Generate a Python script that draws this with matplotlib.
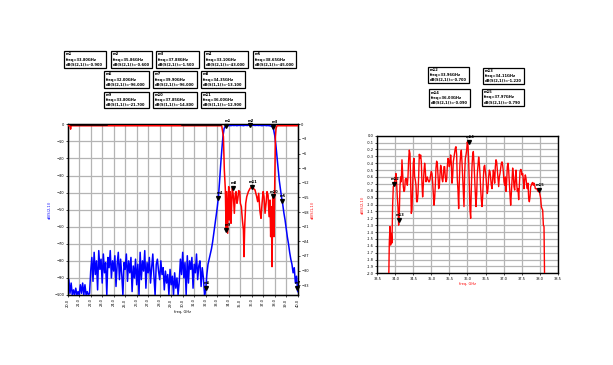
import numpy as np
import matplotlib
matplotlib.use('Agg')
import matplotlib.pyplot as plt
from matplotlib.patches import Rectangle

# ---- left plot: full sweep, S21 in blue (left axis), S11 in red (right axis)
freq_s21 = np.round(np.arange(20.0, 40.05, 0.1), 1)
s21_db = [
    -96, -91, -99, -93, -100, -97, -100, -96, -100, -98,
    -100, -94, -99, -93, -100, -94, -100, -98, -100, -99,
    -86, -78, -92, -75, -88, -80, -97, -74, -85, -79,
    -93, -76, -87, -81, -100, -78, -84, -74, -90, -80,
    -86, -77, -95, -82, -75, -91, -79, -88, -100, -81,
    -85, -76, -92, -80, -87, -78, -98, -83, -90, -79,
    -94, -82, -100, -75, -91, -80, -86, -74, -96, -81,
    -87, -78, -93, -84, -76, -89, -100, -82, -79, -86,
    -91, -80, -88, -84, -97, -86, -93, -88, -100, -85,
    -94, -89, -100, -87, -96, -90, -100, -92, -79, -88,
    -75, -90, -81, -100, -77, -93, -80, -85, -78, -96,
    -82, -87, -76, -91, -83, -80, -95, -84, -90, -100,
    -97, -88, -82, -79, -76, -73, -69, -64, -59, -54,
    -49, -43, -34, -24, -15, -7, -2.5, -1.2, -0.9, -0.8,
    -0.8, -0.7, -0.8, -0.6, -0.7, -0.7, -0.6, -0.8, -0.7, -0.6,
    -0.7, -0.6, -0.7, -0.8, -0.6, -0.6, -0.7, -0.6, -0.5, -0.6,
    -0.6, -0.5, -0.6, -0.7, -0.6, -0.6, -0.7, -0.6, -0.7, -0.8,
    -0.7, -0.6, -0.7, -0.8, -0.7, -0.8, -0.9, -1.1, -1.5, -3.0,
    -6.5, -12, -19, -26, -33, -38, -43, -47, -52, -56,
    -61, -66, -70, -75, -79, -82, -87, -84, -93, -89,
    -98,
]

freq_s11 = [20.0, 20.2, 20.25, 20.3, 33.39, 33.54, 33.62, 33.71, 33.77, 33.83,
            33.91, 34.00, 34.06, 34.14, 34.20, 34.26, 34.32, 34.41, 34.49, 34.58,
            34.64, 34.72, 34.78, 34.87, 34.96, 35.01, 35.10, 35.19, 35.28, 35.33,
            35.39, 35.48, 35.57, 35.71, 35.86, 36.00, 36.14, 36.29, 36.43, 36.52,
            36.61, 36.72, 36.81, 36.90, 36.99, 37.07, 37.16, 37.25, 37.33, 37.42,
            37.51, 37.59, 37.65, 37.71, 37.77, 37.83, 37.88, 37.94, 38.00, 38.06,
            38.12, 38.20, 40.0]
s11_db = [-0.3, -0.3, -1.0, -0.3, -0.3, -2.53, -9.37, -13.47, -21.67, -13.81,
          -22.35, -12.78, -19.62, -13.81, -20.30, -16.20, -13.12, -14.83, -18.25, -14.15,
          -13.81, -16.20, -15.52, -13.60, -13.81, -16.20, -16.88, -19.62, -21.67, -27.14,
          -20.99, -16.20, -14.83, -13.81, -13.12, -12.92, -13.12, -13.47, -14.83, -15.86,
          -14.15, -17.91, -19.28, -16.20, -13.81, -14.83, -18.25, -16.20, -13.81, -14.49,
          -18.94, -15.52, -23.04, -16.88, -29.19, -14.83, -19.62, -23.04, -12.78, -2.53,
          -0.82, -0.3, -0.3]

# black trace segments sitting on top of S11 near 0 dB
freq_blk = [[20.26, 23.42], [29.94, 33.33]]
blk_db = [[-0.05, -0.05], [-0.05, -0.05]]

left_names = ['m1', 'm2', 'm3', 'm4', 'm5', 'm6', 'm7', 'm8', 'm9', 'm10', 'm11']
left_freq = [33.80, 35.86, 37.88, 33.10, 38.65, 32.00, 39.90, 34.35, 33.80, 37.85, 36.00]
left_val = [-0.9, -0.6, -1.5, -43.0, -45.0, -96.0, -96.0, -13.1, -21.7, -14.8, -12.9]
left_trace = ['S(2,1)'] * 7 + ['S(1,1)'] * 4

# ---- right plot: passband zoom of S21
s21_zoom_db = [
    -2.2, -1.56, -1.32, -1.59, -1.42, -1.56, -1.01, -0.74, -0.72, -0.67,
    -0.62, -0.55, -0.69, -0.89, -1.03, -1.30, -1.13, -0.74, -0.60, -0.67,
    -0.35, -0.55, -0.74, -0.81, -0.79, -0.64, -0.62, -0.64, -0.72, -0.60,
    -0.35, -0.21, -0.26, -0.64, -1.13, -1.08, -0.74, -0.40, -0.33, -0.60,
    -0.64, -0.72, -0.96, -0.96, -0.84, -0.60, -0.27, -0.33, -0.28, -0.38,
    -0.69, -0.89, -0.72, -0.52, -0.40, -0.50, -0.67, -0.64, -0.60, -0.64,
    -0.67, -0.67, -0.64, -0.57, -0.52, -0.55, -0.67, -0.84, -1.01, -0.91,
    -0.72, -0.47, -0.37, -0.40, -0.57, -0.77, -0.74, -0.57, -0.43, -0.47,
    -0.62, -0.67, -0.60, -0.45, -0.45, -0.60, -0.67, -0.64, -0.45, -0.33,
    -0.35, -0.45, -0.40, -0.28, -0.40, -0.69, -0.60, -0.38, -0.31, -0.23,
    -0.18, -0.16, -0.28, -0.64, -0.79, -1.06, -0.67, -0.40, -0.28, -0.21,
    -0.38, -0.60, -0.81, -1.03, -0.55, -0.33, -0.28, -0.21, -0.09, -0.14,
    -0.35, -0.69, -1.08, -1.20, -0.77, -0.45, -0.28, -0.23, -0.40, -0.64,
    -0.84, -1.03, -0.86, -0.55, -0.43, -0.31, -0.40, -0.55, -0.77, -0.93,
    -1.03, -0.89, -0.62, -0.45, -0.43, -0.52, -0.60, -0.74, -0.84, -0.77,
    -0.60, -0.50, -0.52, -0.62, -0.72, -0.77, -0.64, -0.50, -0.57, -0.69,
    -0.45, -0.35, -0.38, -0.50, -0.64, -0.74, -0.60, -0.55, -0.47, -0.40,
    -0.38, -0.43, -0.52, -0.67, -0.72, -0.60, -0.81, -0.67, -0.45, -0.40,
    -0.50, -0.69, -0.86, -1.01, -0.84, -0.64, -0.47, -0.57, -0.74, -0.79,
    -0.62, -0.50, -0.69, -0.81, -0.77, -0.93, -0.74, -0.52, -0.49, -0.50,
    -0.57, -0.55, -0.64, -0.77, -0.64, -0.57, -0.62, -0.72, -0.77, -0.69,
    -0.91, -0.96, -0.89, -0.74, -0.72, -0.69, -0.68, -0.72, -0.69, -0.72,
    -0.77, -0.77, -0.77, -0.79, -0.81, -0.79, -0.81, -0.86, -0.91, -1.03,
    -1.06, -1.08, -1.30, -1.32, -2.2,
]
freq_zoom = np.linspace(33.814, 38.139, len(s21_zoom_db))

right_names = ['m12', 'm13', 'm14', 'm15']
right_freq = [33.96, 34.11, 36.03, 37.97]
right_val = [-0.70, -1.22, -0.09, -0.79]

W, H = 613, 365
BLUE = '#0000ff'
RED = '#ff0000'
GRID = '#b4b4b4'
FS = 2.6


def style_axes(ax):
    ax.grid(True, color=GRID, lw=0.9)
    ax.set_axisbelow(True)
    for s in ax.spines.values():
        s.set_linewidth(1.0)
        s.set_color('black')
    ax.tick_params(labelsize=FS, length=1.5, width=0.5, pad=1)


def drop_marker(ax, f, v, name):
    ax.plot([f], [v], marker='v', ms=2.8, color='black', clip_on=False, zorder=6)
    ax.annotate(name, (f, v), xytext=(0.8, 2.0), textcoords='offset points',
                fontsize=FS, weight='bold', ha='center', va='bottom',
                annotation_clip=False, zorder=6)


fig = plt.figure(figsize=(W / 100, H / 100), dpi=100)

# left chart
ax1 = fig.add_axes([67.7 / W, 1 - 295 / H, 230 / W, 170.7 / H])
style_axes(ax1)
ax1.plot(freq_s21, s21_db, color=BLUE, lw=1.1, zorder=3)
ax1.set_xlim(20, 40)
ax1.set_ylim(-100, 0)
ax1.set_xticks(np.arange(20, 40.5, 1))
ax1.set_xticklabels(['%.1f' % t for t in np.arange(20, 40.5, 1)], rotation=90)
ax1.set_yticks(np.arange(-100, 1, 10))
ax1.set_xlabel('freq, GHz', fontsize=FS)
ax1.xaxis.set_label_coords(0.5, -0.085)
ax1.set_ylabel('dB(S(2,1))', fontsize=FS, color=BLUE)
ax1.yaxis.set_label_coords(-0.068, 0.5)

ax1r = ax1.twinx()
ax1r.plot(freq_s11, s11_db, color=RED, lw=1.1, zorder=3)
for fb, vb in zip(freq_blk, blk_db):
    ax1r.plot(fb, vb, color='black', lw=1.1, zorder=4)
ax1r.set_ylim(-35, 0)
ax1r.set_yticks(np.arange(-33, 1, 3))
ax1r.tick_params(labelsize=FS, length=1.5, width=0.5, pad=1)
ax1r.set_ylabel('dB(S(1,1))', fontsize=FS, color=RED)
ax1r.yaxis.set_label_coords(1.058, 0.5)

for n, f, v, tr in zip(left_names, left_freq, left_val, left_trace):
    drop_marker(ax1 if tr == 'S(2,1)' else ax1r, f, v, n)

# right chart
ax2 = fig.add_axes([377.3 / W, 1 - 273.3 / H, 180.4 / W, 137.6 / H])
style_axes(ax2)
ax2.plot(freq_zoom, s21_zoom_db, color=RED, lw=1.0, zorder=3)
ax2.set_xlim(33.5, 38.5)
ax2.set_ylim(-2.0, 0)
ax2.set_xticks(np.arange(33.5, 38.51, 0.5))
ax2.set_yticks(np.arange(-2.0, 0.01, 0.1))
ax2.yaxis.set_major_formatter(plt.FormatStrFormatter('%.1f'))
ax2.set_xlabel('freq, GHz', fontsize=FS, color=RED)
ax2.xaxis.set_label_coords(0.5, -0.063)
ax2.set_ylabel('dB(S(2,1))', fontsize=FS, color=RED)
ax2.yaxis.set_label_coords(-0.068, 0.5)
for n, f, v in zip(right_names, right_freq, right_val):
    drop_marker(ax2, f, v, n)

# marker readout boxes (pixel rectangles: x0, y0, x1, y1)
left_boxes = [(64.3, 50.7, 105.7, 68.3), (110.7, 50.7, 151.7, 68.3),
              (155.7, 50.7, 199.0, 68.3), (204.0, 50.7, 248.3, 68.3),
              (253.3, 50.7, 296.0, 68.3),
              (104.3, 70.7, 149.0, 88.3), (152.7, 70.7, 196.7, 88.3),
              (201.0, 70.7, 245.3, 88.3),
              (104.3, 91.7, 149.0, 108.3), (152.7, 91.7, 196.7, 108.3),
              (201.0, 91.7, 245.3, 108.3)]
right_boxes = [(428.3, 67.3, 469.3, 82.7), (483.3, 68.3, 524.3, 83.7),
               (429.3, 89.3, 470.0, 106.7), (482.3, 89.0, 524.0, 105.7)]


def readout(box, name, f, v, tr):
    x0, y0, x1, y1 = box
    fig.add_artist(Rectangle((x0 / W, 1 - y1 / H), (x1 - x0) / W, (y1 - y0) / H,
                             transform=fig.transFigure, facecolor='white',
                             edgecolor='black', lw=0.9, zorder=5))
    h = y1 - y0
    lines = [name, 'freq=%.2fGHz' % f, 'dB(%s)=%.3f' % (tr, v)]
    for i, s in enumerate(lines):
        fig.text((x0 + 1.8) / W, 1 - (y0 + h * (0.2 + 0.3 * i)) / H, s,
                 fontsize=FS, weight='bold', va='center', ha='left', zorder=6)


for b, n, f, v, tr in zip(left_boxes, left_names, left_freq, left_val, left_trace):
    readout(b, n, f, v, tr)
for b, n, f, v in zip(right_boxes, right_names, right_freq, right_val):
    readout(b, n, f, v, 'S(2,1)')

fig.savefig('out.png', dpi=100)
